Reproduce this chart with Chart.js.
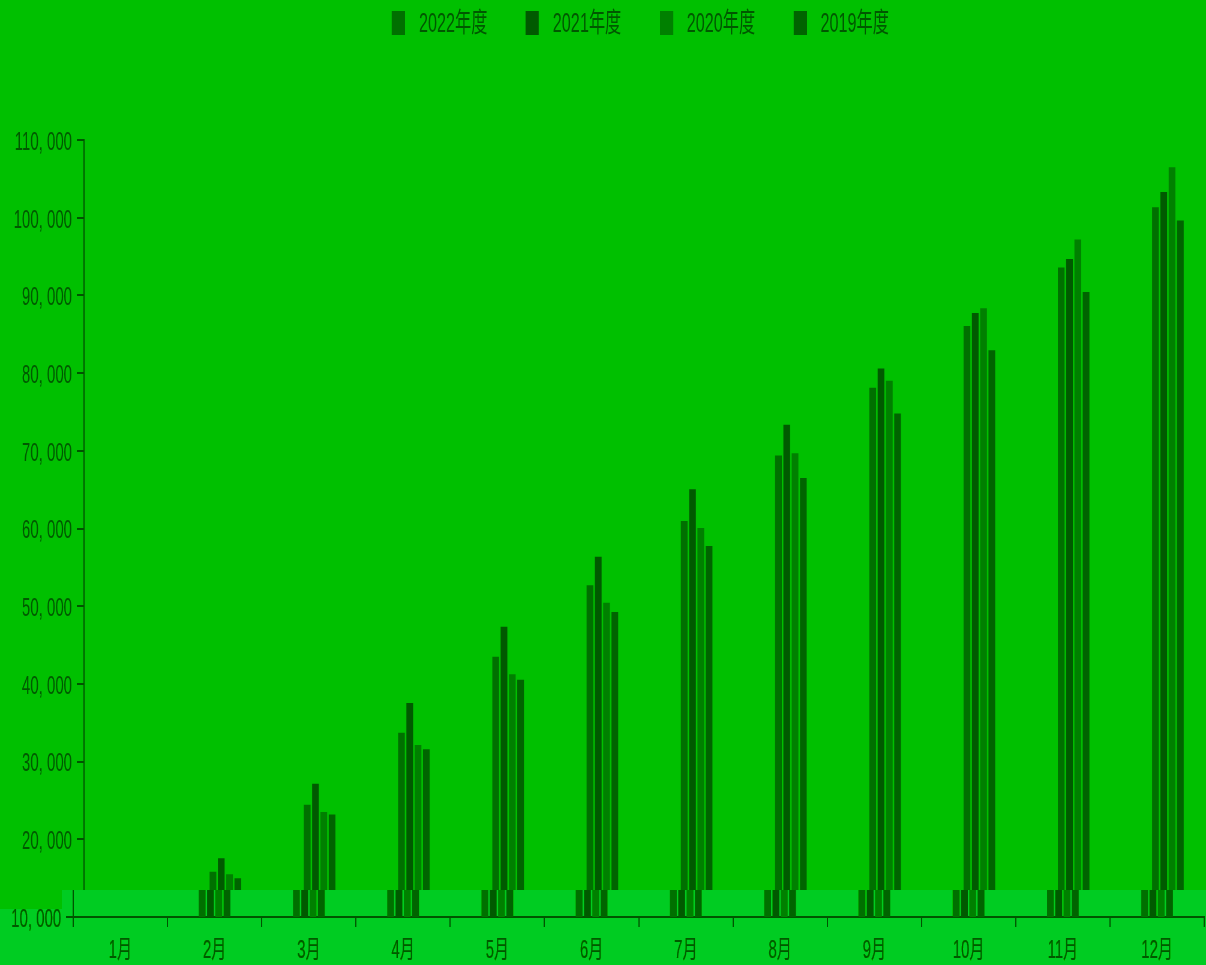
<!DOCTYPE html>
<html lang="zh">
<head>
<meta charset="utf-8">
<title>年度月别累计</title>
<script src="https://cdn.jsdelivr.net/npm/chart.js@4.4.1/dist/chart.umd.min.js"></script>
<style>
  html, body { margin: 0; padding: 0; width: 1206px; height: 965px; overflow: hidden; background: #00c000; }
  /* the whole chart is drawn wide and squeezed horizontally, like the narrow lettering in the picture */
  #wrap { position: relative; width: 2040px; height: 965px; transform: scaleX(0.6); transform-origin: 0 0; }
  #legend { position: absolute; top: 11px; display: flex; justify-content: center; align-items: center; }
  #legend .item { display: flex; align-items: center; margin: 0 32px; }
  #legend .box { width: 22px; height: 24px; margin-right: 23px; }
  #legend .txt { font: 27px "Liberation Sans", "Noto Sans CJK SC", sans-serif; line-height: 24px; color: #005800; white-space: nowrap; }
</style>
</head>
<body>
<div id="wrap">
  <canvas id="chart" width="2040" height="965"></canvas>
  <div id="legend"></div>
</div>
<script>
const months = ["1月", "2月", "3月", "4月", "5月", "6月", "7月", "8月", "9月", "10月", "11月", "12月"];
const seriesNames = ["2022年度", "2021年度", "2020年度", "2019年度"];

// cumulative values (1月 falls below the 10,000 axis floor)
const fy2022 = [null, 15830, 24450, 33700, 43500, 52700, 60950, 69400, 78100, 86050, 93600, 101350];
const fy2021 = [null, 17550, 27150, 37550, 47350, 56350, 65050, 73350, 80600, 87750, 94700, 103300];
const fy2020 = [null, 15500, 23500, 32150, 41250, 50450, 60050, 69700, 79000, 88350, 97200, 106500];
const fy2019 = [null, 14980, 23200, 31600, 40550, 49250, 57750, 66500, 74800, 82950, 90450, 99650];

const yMin = 10000;
const yMax = 110000;
const yStep = 10000;

const SQUEEZE = 0.6;
const BG = [0, 192, 0];
const BG_LIGHT = [0, 204, 34];
const TEXT = "#005800";
const AXIS = "#005400";
const COLORS = ["#007000", "#005a00", "#008000", "#006400"];
const FONT = '"Liberation Sans", "Noto Sans CJK SC", sans-serif';

// background + the lighter, slightly offset strip along the bottom of the picture
const bottomStrip = {
  id: "bottomStrip",
  beforeDraw(chart) {
    const { ctx, width, height } = chart;
    ctx.save();
    ctx.fillStyle = `rgb(${BG.join(",")})`;
    ctx.fillRect(0, 0, width, height);
    ctx.restore();
  },
  afterDraw(chart) {
    const { ctx, width, height, chartArea } = chart;
    const shift = Math.round(11 / SQUEEZE);
    const yA = Math.round(chartArea.bottom - 27);
    const yB = Math.round(chartArea.bottom - 8);
    const xA = Math.round(62 / SQUEEZE);
    const h = height - yA;
    const src = ctx.getImageData(0, yA, width, h).data;
    const out = ctx.createImageData(width, h);
    const o = out.data;
    for (let r = 0; r < h; r++) {
      const inB = yA + r >= yB;
      for (let x = 0; x < width; x++) {
        const i = (r * width + x) * 4;
        const moved = inB || x >= xA;
        let j = i;
        if (moved) j = x + shift < width ? i + shift * 4 : -1;
        let R, G, B;
        if (j < 0) {
          [R, G, B] = BG_LIGHT;
        } else {
          R = src[j]; G = src[j + 1]; B = src[j + 2];
          if (moved && R === BG[0] && G === BG[1] && B === BG[2]) [R, G, B] = BG_LIGHT;
        }
        o[i] = R; o[i + 1] = G; o[i + 2] = B; o[i + 3] = 255;
      }
    }
    ctx.putImageData(out, 0, yA);
  }
};

const yearData = [fy2022, fy2021, fy2020, fy2019];

const chart = new Chart(document.getElementById("chart").getContext("2d"), {
  type: "bar",
  data: {
    labels: months,
    datasets: seriesNames.map((name, i) => ({
      label: name,
      data: yearData[i],
      backgroundColor: COLORS[i],
      borderWidth: 0
    }))
  },
  options: {
    responsive: false,
    animation: false,
    layout: { padding: { top: 140, right: 15, bottom: 0, left: 0 } },
    font: { family: FONT },
    datasets: { bar: { categoryPercentage: 0.352, barPercentage: 0.81 } },
    plugins: {
      legend: { display: false },
      tooltip: { enabled: false }
    },
    scales: {
      x: {
        grid: { drawOnChartArea: false, color: AXIS, lineWidth: 2, tickLength: 10 },
        border: { color: AXIS, width: 2 },
        ticks: { color: TEXT, font: { family: FONT, size: 25 }, padding: 9, maxRotation: 0, autoSkip: false },
        afterFit(scale) { scale.height = 48; }
      },
      y: {
        min: yMin,
        max: yMax,
        grid: { drawOnChartArea: false, color: AXIS, lineWidth: 2, tickLength: 12 },
        border: { color: AXIS, width: 2 },
        ticks: {
          stepSize: yStep,
          color: TEXT,
          font: { family: FONT, size: 25 },
          padding: 8,
          labelOffset: 3,
          callback: v => v.toLocaleString("en-US").replace(",", ", ")
        },
        afterFit(scale) { scale.width = 140; }
      }
    }
  },
  plugins: [bottomStrip]
});

// legend in HTML, roughly centred over the plot area
const legendEl = document.getElementById("legend");
legendEl.style.left = (chart.chartArea.left - 15) + "px";
legendEl.style.width = (chart.chartArea.right - chart.chartArea.left) + "px";
chart.data.datasets.forEach(ds => {
  const item = document.createElement("div");
  item.className = "item";
  const box = document.createElement("span");
  box.className = "box";
  box.style.background = ds.backgroundColor;
  const txt = document.createElement("span");
  txt.className = "txt";
  txt.textContent = ds.label;
  item.appendChild(box);
  item.appendChild(txt);
  legendEl.appendChild(item);
});
</script>
</body>
</html>
